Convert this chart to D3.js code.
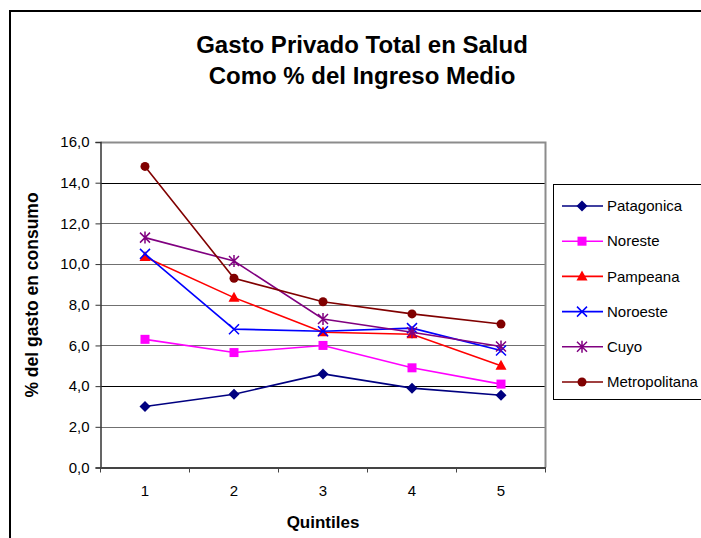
<!DOCTYPE html>
<html>
<head>
<meta charset="utf-8">
<script src="https://cdn.jsdelivr.net/npm/d3@7"></script>
<style>
  html, body { margin: 0; padding: 0; background: #fff; }
  svg { display: block; font-family: "Liberation Sans", Arial, sans-serif; }
</style>
</head>
<body>
<svg id="chart" width="701" height="538"></svg>
<script>
// Quintiles de ingreso
const quintiles = ["1", "2", "3", "4", "5"];
const yTicks = [0, 2, 4, 6, 8, 10, 12, 14, 16];

// Gasto privado en salud como % del gasto en consumo, por región
const patagonica    = [3.0, 3.6, 4.6, 3.9, 3.55];
const noreste       = [6.3, 5.65, 6.0, 4.9, 4.1];
const pampeana      = [10.35, 8.35, 6.65, 6.55, 5.0];
const noroeste      = [10.5, 6.8, 6.7, 6.85, 5.75];
const cuyo          = [11.3, 10.15, 7.3, 6.65, 5.95];
const metropolitana = [14.8, 9.3, 8.15, 7.55, 7.05];

const regiones = ["Patagonica", "Noreste", "Pampeana", "Noroeste", "Cuyo", "Metropolitana"];
const valores  = [patagonica, noreste, pampeana, noroeste, cuyo, metropolitana];
const colores  = ["#000080", "#FF00FF", "#FF0000", "#0000FF", "#800080", "#800000"];
const simbolos = ["diamond", "square", "triangle", "x", "star", "circle"];

const svg = d3.select("#chart");

// Marco exterior del gráfico
svg.append("rect")
  .attr("x", 10).attr("y", 11)
  .attr("width", 720).attr("height", 560)
  .attr("fill", "#fff").attr("stroke", "#000").attr("stroke-width", 2);

const plot = { left: 100.5, right: 545.5, top: 142, bottom: 467.5 };

const x = d3.scaleBand().domain(quintiles).range([plot.left, plot.right]);
const y = d3.scaleLinear().domain([0, 16]).range([plot.bottom, plot.top]);

// Líneas de cuadrícula horizontales
svg.append("g")
  .selectAll("line")
  .data(yTicks.filter(d => d > 0 && d < 16))
  .join("line")
  .attr("x1", plot.left).attr("x2", plot.right)
  .attr("y1", d => Math.round(y(d)) + 0.5).attr("y2", d => Math.round(y(d)) + 0.5)
  .attr("stroke", d => (d === 14 || d === 4) ? "#000" : "#707070")
  .attr("stroke-width", 1.2);

// Borde del área de trazado (superior y derecho)
svg.append("path")
  .attr("d", `M${plot.left},${plot.top + 0.5}H${plot.right}V${plot.bottom}`)
  .attr("fill", "none").attr("stroke", "#8c8c8c").attr("stroke-width", 2);

// Eje Y
const yAxis = d3.axisLeft(y)
  .tickValues(yTicks)
  .tickSize(5)
  .tickPadding(6)
  .tickFormat(d => d3.format(".1f")(d).replace(".", ","));
const gy = svg.append("g").attr("transform", `translate(${plot.left},0)`).call(yAxis);
gy.select(".domain").attr("stroke", "#333").attr("stroke-width", 1.5);
gy.selectAll(".tick line").attr("stroke", "#333");
gy.selectAll("text").attr("font-size", 15).attr("fill", "#000")
  .attr("font-family", "'Liberation Sans', Arial, sans-serif");

// Eje X con marcas entre categorías
const xAxis = d3.axisBottom(x).tickSize(0).tickPadding(18);
const gx = svg.append("g").attr("transform", `translate(0,${plot.bottom})`).call(xAxis);
gx.select(".domain").attr("stroke", "#444").attr("stroke-width", 2);
gx.selectAll("text").attr("font-size", 15).attr("fill", "#000")
  .attr("font-family", "'Liberation Sans', Arial, sans-serif");
const bordes = quintiles.map(q => x(q)).concat([x(quintiles[quintiles.length - 1]) + x.bandwidth()]);
gx.selectAll(".sep").data(bordes).join("line")
  .attr("class", "sep")
  .attr("x1", d => d).attr("x2", d => d)
  .attr("y1", 0).attr("y2", 5)
  .attr("stroke", "#444").attr("stroke-width", 1);

// Títulos
svg.append("text")
  .attr("x", 362).attr("y", 53)
  .attr("text-anchor", "middle")
  .attr("font-size", 24).attr("font-weight", "bold")
  .text("Gasto Privado Total en Salud");
svg.append("text")
  .attr("x", 362).attr("y", 84)
  .attr("text-anchor", "middle")
  .attr("font-size", 24).attr("font-weight", "bold")
  .text("Como % del Ingreso Medio");

svg.append("text")
  .attr("x", 323).attr("y", 528)
  .attr("text-anchor", "middle")
  .attr("font-size", 17).attr("font-weight", "bold")
  .text("Quintiles");

svg.append("text")
  .attr("transform", "translate(38,295) rotate(-90)")
  .attr("text-anchor", "middle")
  .attr("font-size", 17.5).attr("font-weight", "bold")
  .text("% del gasto en consumo");

// Dibujo de marcadores
function marcador(g, tipo, color) {
  switch (tipo) {
    case "diamond":
      g.append("path").attr("d", "M0,-5.5L5.5,0L0,5.5L-5.5,0Z").attr("fill", color);
      break;
    case "square":
      g.append("rect").attr("x", -4.5).attr("y", -4.5).attr("width", 9).attr("height", 9).attr("fill", color);
      break;
    case "triangle":
      g.append("path").attr("d", "M0,-6L5.5,4L-5.5,4Z").attr("fill", color);
      break;
    case "x":
      g.append("path").attr("d", "M-5,-5L5,5M5,-5L-5,5").attr("stroke", color).attr("stroke-width", 1.5).attr("fill", "none");
      break;
    case "star":
      g.append("path").attr("d", "M-5,-5L5,5M5,-5L-5,5M0,-6V6").attr("stroke", color).attr("stroke-width", 1.5).attr("fill", "none");
      break;
    case "circle":
      g.append("circle").attr("r", 4.5).attr("fill", color);
      break;
  }
}

const xc = q => x(q) + x.bandwidth() / 2;
const linea = d3.line().x((d, i) => xc(quintiles[i])).y(d => y(d));

// Series
regiones.forEach((r, k) => {
  const g = svg.append("g");
  g.append("path")
    .datum(valores[k])
    .attr("d", linea)
    .attr("fill", "none")
    .attr("stroke", colores[k])
    .attr("stroke-width", 1.6);
  valores[k].forEach((v, i) => {
    const m = g.append("g").attr("transform", `translate(${xc(quintiles[i])},${y(v)})`);
    marcador(m, simbolos[k], colores[k]);
  });
});

// Leyenda
const leg = svg.append("g");
leg.append("rect")
  .attr("x", 553.5).attr("y", 184.5)
  .attr("width", 200).attr("height", 215)
  .attr("fill", "#fff").attr("stroke", "#000").attr("stroke-width", 1);
regiones.forEach((r, k) => {
  const yy = 206 + k * 35.2;
  leg.append("line")
    .attr("x1", 562).attr("x2", 603)
    .attr("y1", yy).attr("y2", yy)
    .attr("stroke", colores[k]).attr("stroke-width", 1.6);
  const m = leg.append("g").attr("transform", `translate(582,${yy})`);
  marcador(m, simbolos[k], colores[k]);
  leg.append("text")
    .attr("x", 607).attr("y", yy)
    .attr("dy", "0.35em")
    .attr("font-size", 15)
    .text(r);
});
</script>
</body>
</html>
